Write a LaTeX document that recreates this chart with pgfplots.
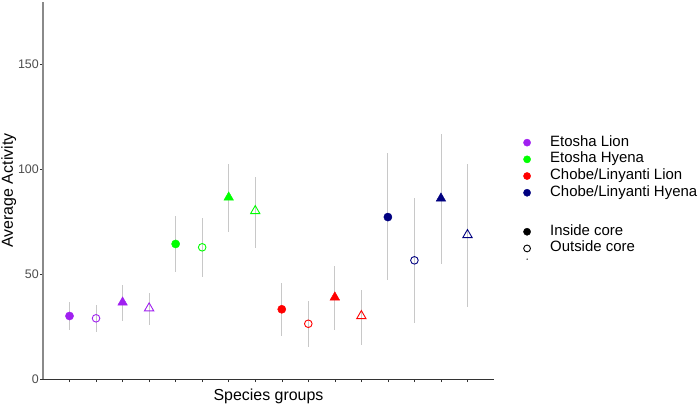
\documentclass[border=0pt]{standalone}
\usepackage{pgfplots}
\pgfplotsset{compat=1.18}
\usepackage{pgfplotstable}
\usepackage{fontspec}
\setmainfont{Liberation Sans}
\definecolor{cpur}{HTML}{A020F0}
\definecolor{cgrn}{HTML}{00FF00}
\definecolor{cred}{HTML}{FF0000}
\definecolor{cnav}{HTML}{000080}
\definecolor{errc}{HTML}{C8C8C8}
\definecolor{ylinec}{HTML}{8A8A8A}
\definecolor{xlinec}{HTML}{333333}
\definecolor{tickc}{HTML}{4D4D4D}

\pgfplotstableread{
x  y     lo    hi
1  30.0  23.3  36.8
2  28.9  22.5  35.2
3  36.5  27.6  44.8
4  33.7  25.7  40.8
5  64.3  51.1  77.6
6  62.7  48.7  76.5
7  86.5  70.1  102.4
8  80.0  62.2  96.3
9  33.2  20.6  45.6
10 26.3  15.4  37.3
11 38.9  23.3  53.8
12 30.0  16.2  42.4
13 77.1  47.1  107.5
14 56.5  26.8  86.3
15 86.0  54.8  116.7
16 68.6  34.4  102.2
}\datatable

\begin{document}
\begin{tikzpicture}[x=1bp,y=1bp]
\path[use as bounding box] (0,0) rectangle (700,405);
\begin{axis}[
  at={(43bp,26bp)}, anchor=south west,
  scale only axis, width=451bp, height=377bp,
  xmin=0, xmax=17, ymin=0, ymax=179.5,
  axis lines=left,
  axis line style={-},
  x axis line style={xlinec, line width=0.9pt},
  y axis line style={ylinec, line width=1.2pt},
  xtick={1,...,16}, xticklabels={},
  ytick={0,50,100,150},
  tick align=outside,
  major tick length=3bp,
  tick style={xlinec, line width=0.5pt},
  yticklabel style={font=\fontsize{12.5}{14}\selectfont, text=tickc, inner sep=1bp},
  /pgf/number format/assume math mode=true,
  xlabel={Species groups},
  ylabel={Average Activity},
  label style={font=\fontsize{16}{18}\selectfont, inner sep=0pt},
  xlabel style={at={(rel axis cs:0.5,0)}, anchor=base, yshift=-21.3bp},
  ylabel style={at={(rel axis cs:0,0.5)}, anchor=south, yshift=26.5bp},
  clip=false,
  legend cell align=left,
  legend style={at={(rel axis cs:1.0474,0.650)}, anchor=north west, draw=none, fill=none,
    font=\fontsize{15}{17}\selectfont,
    nodes={inner sep=0pt, text height=10bp, text depth=3bp},
    row sep=3.7bp, column sep=19.5bp},
]
% error bars
\addplot[draw=none, mark=none, forget plot,
  error bars/.cd, y dir=both, y explicit, error mark=none,
  error bar style={errc, line width=0.9pt}]
  table[x=x, y=y, y error plus expr=\thisrow{hi}-\thisrow{y}, y error minus expr=\thisrow{y}-\thisrow{lo}] {\datatable};

% markers: Etosha Lion
\addplot[forget plot, only marks, mark=*, mark size=4.1bp, cpur] coordinates {(1,30.0)};
\addplot[forget plot, only marks, mark=o, mark size=3.8bp, cpur, mark options={line width=0.9pt, fill=white}] coordinates {(2,28.9)};
\addplot[forget plot, only marks, mark=triangle*, mark size=5.5bp, cpur] coordinates {(3,36.5)};
\addplot[forget plot, only marks, mark=triangle, mark size=5.4bp, cpur, mark options={line width=0.9pt, fill=white}] coordinates {(4,33.7)};
% Etosha Hyena
\addplot[forget plot, only marks, mark=*, mark size=4.1bp, cgrn] coordinates {(5,64.3)};
\addplot[forget plot, only marks, mark=o, mark size=3.8bp, cgrn, mark options={line width=0.9pt, fill=white}] coordinates {(6,62.7)};
\addplot[forget plot, only marks, mark=triangle*, mark size=5.5bp, cgrn] coordinates {(7,86.5)};
\addplot[forget plot, only marks, mark=triangle, mark size=5.4bp, cgrn, mark options={line width=0.9pt, fill=white}] coordinates {(8,80.0)};
% Chobe Lion
\addplot[forget plot, only marks, mark=*, mark size=4.1bp, cred] coordinates {(9,33.2)};
\addplot[forget plot, only marks, mark=o, mark size=3.8bp, cred, mark options={line width=0.9pt, fill=white}] coordinates {(10,26.3)};
\addplot[forget plot, only marks, mark=triangle*, mark size=5.5bp, cred] coordinates {(11,38.9)};
\addplot[forget plot, only marks, mark=triangle, mark size=5.4bp, cred, mark options={line width=0.9pt, fill=white}] coordinates {(12,30.0)};
% Chobe Hyena
\addplot[forget plot, only marks, mark=*, mark size=4.1bp, cnav] coordinates {(13,77.1)};
\addplot[forget plot, only marks, mark=o, mark size=3.8bp, cnav, mark options={line width=0.9pt, fill=white}] coordinates {(14,56.5)};
\addplot[forget plot, only marks, mark=triangle*, mark size=5.5bp, cnav] coordinates {(15,86.0)};
\addplot[forget plot, only marks, mark=triangle, mark size=5.4bp, cnav, mark options={line width=0.9pt, fill=white}] coordinates {(16,68.6)};

% legend
\addlegendimage{only marks, mark=*, mark size=3.6bp, cpur}
\addlegendentry{Etosha Lion}
\addlegendimage{only marks, mark=*, mark size=3.6bp, cgrn}
\addlegendentry{Etosha Hyena}
\addlegendimage{only marks, mark=*, mark size=3.6bp, cred}
\addlegendentry{Chobe/Linyanti Lion}
\addlegendimage{only marks, mark=*, mark size=3.6bp, cnav}
\addlegendentry{Chobe/Linyanti Hyena}
\addlegendimage{empty legend}
\addlegendentry[text height=15.6bp, text depth=3bp]{}
\addlegendimage{only marks, mark=*, mark size=3.6bp, black}
\addlegendentry{Inside core}
\addlegendimage{only marks, mark=o, mark size=3.4bp, black, mark options={line width=0.9pt}}
\addlegendentry{Outside core}
\addlegendimage{only marks, mark=*, mark size=0.4bp, black}
\addlegendentry[text height=0.5bp, text depth=0pt]{}
\end{axis}
\end{tikzpicture}
\end{document}
